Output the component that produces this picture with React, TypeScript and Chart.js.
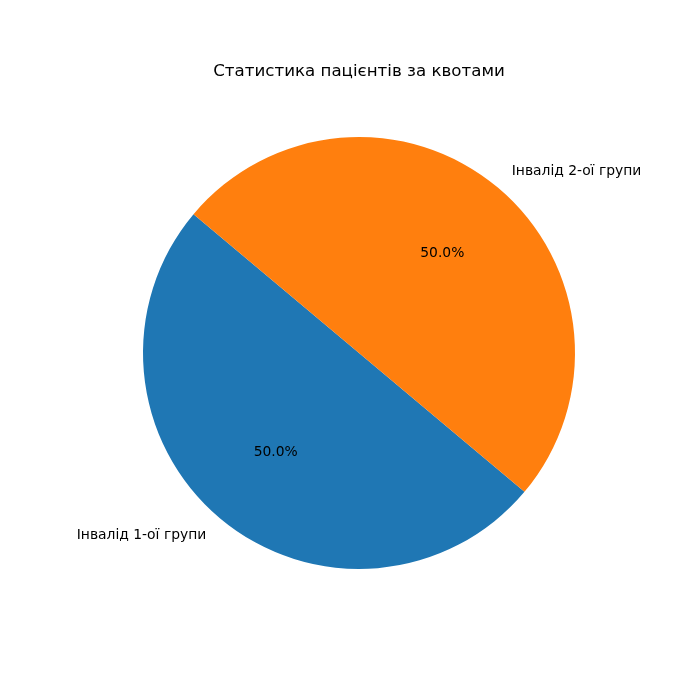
import React, { useEffect, useRef } from "react";
import { Chart, registerables } from "chart.js";

Chart.register(...registerables);

const categories: string[] = ["Інвалід 1-ої групи", "Інвалід 2-ої групи"];
const values: number[] = [1, 1];
const colors: string[] = ["#1f77b4", "#ff7f0e"];
const titleText = "Статистика пацієнтів за квотами";

const FONT = '"DejaVu Sans", sans-serif';

const labelPlugin = {
  id: "mplLabels",
  afterDraw(chart: any) {
    const ctx = chart.ctx;
    const meta = chart.getDatasetMeta(0);
    const total = values.reduce((a, b) => a + b, 0);
    ctx.save();
    ctx.fillStyle = "#000";
    // title
    ctx.font = `16.67px ${FONT}`;
    ctx.textAlign = "center";
    ctx.textBaseline = "alphabetic";
    const cx0 = meta.data[0].x;
    ctx.fillText(titleText, cx0, 76);
    meta.data.forEach((arc: any, i: number) => {
      const mid = (arc.startAngle + arc.endAngle) / 2;
      const r = arc.outerRadius;
      const cos = Math.cos(mid);
      const sin = Math.sin(mid);
      ctx.font = `13.89px ${FONT}`;
      ctx.textBaseline = "middle";
      // outer label
      ctx.textAlign = cos < 0 ? "right" : "left";
      ctx.fillText(categories[i], arc.x + 1.1 * r * cos, arc.y + 1.1 * r * sin);
      // percent
      ctx.textAlign = "center";
      const pct = ((values[i] / total) * 100).toFixed(1) + "%";
      ctx.fillText(pct, arc.x + 0.6 * r * cos, arc.y + 0.6 * r * sin);
    });
    ctx.restore();
  },
};

export default function App() {
  const ref = useRef<HTMLCanvasElement>(null);
  useEffect(() => {
    document.body.style.margin = "0";
    const chart = new Chart(ref.current as HTMLCanvasElement, {
      type: "pie",
      data: {
        labels: categories,
        datasets: [
          {
            data: values,
            backgroundColor: colors,
            borderWidth: 0,
          },
        ],
      },
      options: {
        responsive: false,
        animation: false,
        rotation: 130,
        layout: { padding: { left: 143, right: 125, top: 137, bottom: 131 } },
        plugins: {
          legend: { display: false },
          tooltip: { enabled: false },
          title: { display: false },
        },
      },
      plugins: [labelPlugin],
    });
    return () => chart.destroy();
  }, []);
  return (
    <div style={{ width: 700, height: 700, background: "#fff" }}>
      <canvas ref={ref} width={700} height={700} style={{ display: "block" }} />
    </div>
  );
}
